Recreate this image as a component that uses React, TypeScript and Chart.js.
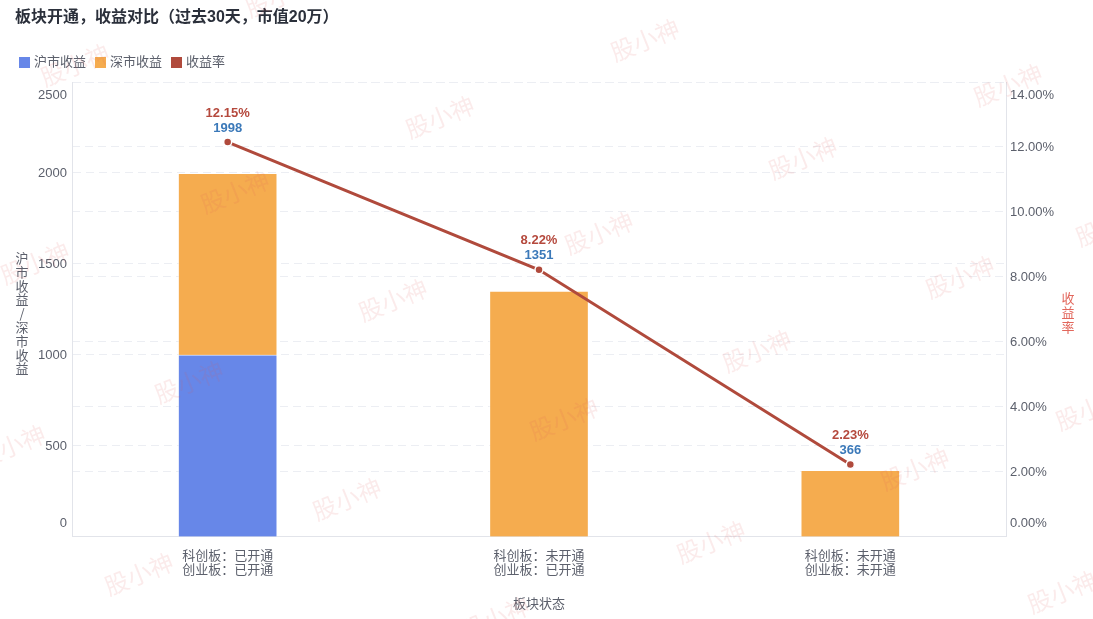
import React, { useEffect, useRef } from 'react';
import { Chart, registerables } from 'chart.js';

Chart.register(...registerables);

// ---------- data ----------
const titleText = '板块开通，收益对比（过去30天，市值20万）';
const categories = [
  ['科创板：已开通', '创业板：已开通'],
  ['科创板：未开通', '创业板：已开通'],
  ['科创板：未开通', '创业板：未开通'],
];
const shIncome = [1000, 0, 0];
const szIncome = [998, 1351, 366];
const totalIncome = [1998, 1351, 366];
const returnRate = [12.15, 8.22, 2.23];
const seriesNames = ['沪市收益', '深市收益', '收益率'];
const incomeAxisMax = 2500;
const incomeAxisStep = 500;
const rateAxisMax = 14;
const rateAxisStep = 2;
const leftAxisTitle = '沪市收益/深市收益';
const rightAxisTitle = '收益率';
const xAxisTitle = '板块状态';
const watermarkText = '股小神';
const watermarkSpots = [
  [75, 65], [280, -4], [440, 117], [235, 192], [35, 263], [393, 300],
  [645, 40], [1008, 85], [803, 158], [599, 233], [960, 277], [189, 382],
  [11, 446], [347, 499], [139, 574], [757, 351], [564, 419], [915, 469],
  [711, 542], [1062, 592], [1090, 409], [495, 618], [1110, 225],
];

// ---------- styles ----------
const FONT = '"Liberation Sans", "Noto Sans CJK SC", sans-serif';
const CJK = '"Noto Sans CJK SC", "Liberation Sans", sans-serif';
const BLUE = '#6787e8';
const ORANGE = '#f5ac4f';
const RED = '#b04a3c';
const TEXT = '#5c606c';
const GRID = '#eceef3';
const AXIS = '#e2e4ea';

const decorPlugin = {
  id: 'decor',
  afterDraw(chart: any) {
    const ctx = chart.ctx as CanvasRenderingContext2D;
    ctx.save();
    ctx.textBaseline = 'middle';

    // title
    ctx.font = `bold 16px ${FONT}`;
    ctx.fillStyle = '#2b303b';
    ctx.textAlign = 'left';
    ctx.fillText(titleText, 15, 18);

    // legend
    ctx.font = `13px ${FONT}`;
    let lx = 19;
    chart.data.datasets.forEach((ds: any) => {
      ctx.fillStyle = ds.type === 'line' ? ds.borderColor : ds.backgroundColor;
      ctx.fillRect(lx, 57, 11, 11);
      ctx.fillStyle = TEXT;
      ctx.fillText(ds.label, lx + 15, 62.5);
      lx += 15 + ctx.measureText(ds.label).width + 9;
    });

    // y tick labels
    const yS = chart.scales.y;
    const y1S = chart.scales.y1;
    ctx.font = `13px ${FONT}`;
    ctx.fillStyle = TEXT;
    ctx.textAlign = 'right';
    yS.ticks.forEach((t: any, i: number) => {
      let py = yS.getPixelForValue(t.value);
      if (i === 0) py -= 13;
      if (i === yS.ticks.length - 1) py += 13;
      ctx.fillText(String(t.value), yS.right - 5, py);
    });
    ctx.textAlign = 'left';
    y1S.ticks.forEach((t: any, i: number) => {
      let py = y1S.getPixelForValue(t.value);
      if (i === 0) py -= 13;
      if (i === y1S.ticks.length - 1) py += 13;
      ctx.fillText(Number(t.value).toFixed(2) + '%', y1S.left + 4, py);
    });

    // axis titles (upright stacked characters)
    ctx.textAlign = 'center';
    ctx.font = `13px ${CJK}`;
    ctx.fillStyle = TEXT;
    Array.from(leftAxisTitle).forEach((ch, i) => {
      ctx.fillText(ch, 22, 258 + i * 13.8);
    });
    ctx.fillStyle = '#e2675c';
    Array.from(rightAxisTitle).forEach((ch, i) => {
      ctx.fillText(ch, 1068, 298 + i * 14.5);
    });

    // data labels above line points
    const meta = chart.getDatasetMeta(2);
    ctx.font = `bold 13px ${FONT}`;
    meta.data.forEach((pt: any, i: number) => {
      ctx.fillStyle = '#b5493d';
      ctx.fillText(returnRate[i].toFixed(2) + '%', pt.x, pt.y - 29);
      ctx.fillStyle = '#3b79b9';
      ctx.fillText(String(totalIncome[i]), pt.x, pt.y - 14);
    });

    // watermark
    ctx.font = `24px ${CJK}`;
    ctx.fillStyle = 'rgba(226, 90, 90, 0.12)';
    watermarkSpots.forEach(([wx, wy]) => {
      ctx.save();
      ctx.translate(wx, wy);
      ctx.rotate((-22 * Math.PI) / 180);
      ctx.fillText(watermarkText, 0, 0);
      ctx.restore();
    });

    ctx.restore();
  },
};

export default function App() {
  const ref = useRef<HTMLCanvasElement>(null);

  useEffect(() => {
    if (!ref.current) return;
    const chart = new Chart(ref.current, {
      type: 'bar',
      data: {
        labels: categories,
        datasets: [
          {
            type: 'bar',
            label: seriesNames[0],
            data: shIncome,
            backgroundColor: BLUE,
            borderColor: 'rgba(255,255,255,0.45)',
            borderWidth: 1,
            barThickness: 99,
            yAxisID: 'y',
            stack: 's',
            order: 1,
          },
          {
            type: 'bar',
            label: seriesNames[1],
            data: szIncome,
            backgroundColor: ORANGE,
            borderColor: 'rgba(255,255,255,0.45)',
            borderWidth: 1,
            barThickness: 99,
            yAxisID: 'y',
            stack: 's',
            order: 2,
          },
          {
            type: 'line',
            label: seriesNames[2],
            data: returnRate,
            borderColor: RED,
            backgroundColor: RED,
            borderWidth: 3,
            pointRadius: 4,
            pointBackgroundColor: RED,
            pointBorderColor: '#ffffff',
            pointBorderWidth: 1.5,
            yAxisID: 'y1',
            tension: 0,
            order: 0,
          } as any,
        ],
      },
      options: {
        responsive: true,
        maintainAspectRatio: false,
        animation: false,
        layout: { padding: { top: 82, bottom: 3, left: 0, right: 0 } },
        plugins: {
          legend: { display: false },
          title: { display: false },
          tooltip: { enabled: false },
        },
        scales: {
          x: {
            stacked: true,
            grid: { display: false, drawTicks: false },
            border: { display: true, color: AXIS, width: 1 },
            ticks: {
              color: TEXT,
              padding: 12,
              maxRotation: 0,
              autoSkip: false,
              font: { size: 13, family: FONT, lineHeight: 1.08 },
            },
            title: {
              display: true,
              text: xAxisTitle,
              color: TEXT,
              font: { size: 13, family: FONT },
              padding: { top: 7.4, bottom: 4 },
            },
          },
          y: {
            stacked: true,
            position: 'left',
            min: 0,
            max: incomeAxisMax,
            ticks: { stepSize: incomeAxisStep, display: false },
            grid: { color: GRID, lineWidth: 1, drawTicks: false },
            border: { display: true, color: AXIS, width: 1, dash: [8, 5] },
            afterFit: (s: any) => {
              s.width = 72;
            },
          },
          y1: {
            position: 'right',
            min: 0,
            max: rateAxisMax,
            ticks: { stepSize: rateAxisStep, display: false },
            grid: { color: GRID, lineWidth: 1, drawTicks: false, drawOnChartArea: true },
            border: { display: true, color: AXIS, width: 1, dash: [8, 5] },
            afterFit: (s: any) => {
              s.width = 87;
            },
          },
        },
      },
      plugins: [decorPlugin],
    } as any);
    return () => chart.destroy();
  }, []);

  return (
    <div
      style={{
        position: 'absolute',
        left: 0,
        top: 0,
        width: 1093,
        height: 619,
        background: '#ffffff',
      }}
    >
      <canvas ref={ref} />
    </div>
  );
}
